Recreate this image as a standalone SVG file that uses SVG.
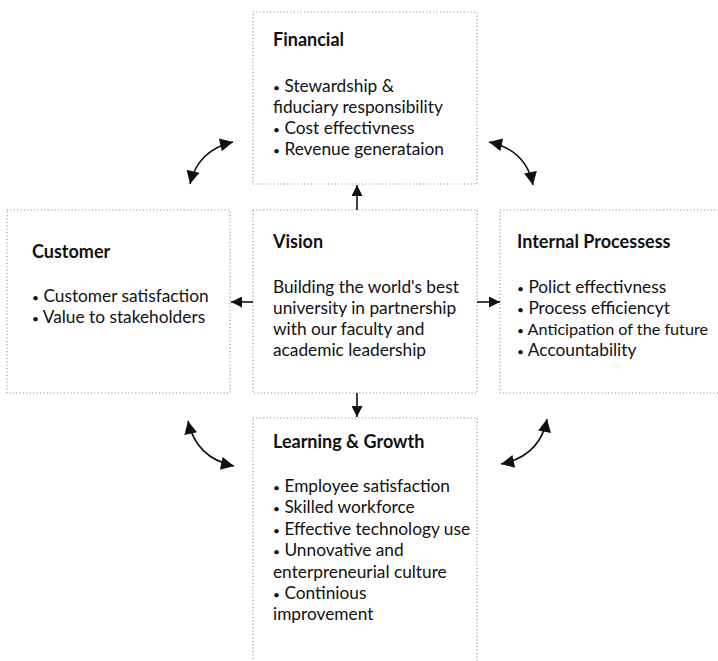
<svg xmlns="http://www.w3.org/2000/svg" width="718" height="661" viewBox="0 0 718 661">
<defs>
<style>
.box{fill:none;stroke:#8a8a8a;stroke-width:1.2;stroke-dasharray:1 2.4}
.t{font-family:Lato,"Open Sans","Liberation Sans",sans-serif;font-size:17.3px;fill:#111}
.h{font-weight:bold;font-size:18px}
.b{font-size:12px}
.c{fill:none;stroke:#111;stroke-width:1.6}
</style>
<marker id="ah" viewBox="0 0 10 10" refX="10" refY="5" markerWidth="11" markerHeight="11" markerUnits="userSpaceOnUse" orient="auto-start-reverse"><path d="M0,0 L10,5 L0,10 z" fill="#111"/></marker>
<marker id="ac" viewBox="0 0 10 10" refX="10" refY="5" markerWidth="14" markerHeight="13" markerUnits="userSpaceOnUse" orient="auto-start-reverse"><path d="M0,0 L10,5 L0,10 z" fill="#111"/></marker>
</defs>
<rect width="718" height="661" fill="#fff"/>
<g id="financial">
<rect class="box" x="253" y="12" width="224" height="172"/>
<text class="t h" x="273" y="46">Financial</text>
<text class="t" x="273" y="92"><tspan class="b">•</tspan> Stewardship &amp;</text>
<text class="t" x="273" y="113">fiduciary responsibility</text>
<text class="t" x="273" y="134"><tspan class="b">•</tspan> Cost effectivness</text>
<text class="t" x="273" y="155"><tspan class="b">•</tspan> Revenue generataion</text>
</g>
<g id="customer">
<rect class="box" x="7" y="210" width="223" height="183"/>
<text class="t h" x="32" y="258">Customer</text>
<text class="t" x="32" y="302"><tspan class="b">•</tspan> Customer satisfaction</text>
<text class="t" x="32" y="323"><tspan class="b">•</tspan> Value to stakeholders</text>
</g>
<g id="vision">
<rect class="box" x="253" y="210" width="224" height="183"/>
<text class="t h" x="273" y="248">Vision</text>
<text class="t" x="273" y="293">Building the world's best</text>
<text class="t" x="273" y="314">university in partnership</text>
<text class="t" x="273" y="335">with our faculty and</text>
<text class="t" x="273" y="356">academic leadership</text>
</g>
<g id="internal">
<rect class="box" x="500" y="210" width="230" height="183"/>
<text class="t h" x="517" y="248">Internal Processess</text>
<text class="t" x="517" y="293"><tspan class="b">•</tspan> Polict effectivness</text>
<text class="t" x="517" y="314"><tspan class="b">•</tspan> Process efficiencyt</text>
<text class="t" x="517" y="335" style="font-size:16.2px"><tspan class="b">•</tspan> Anticipation of the future</text>
<text class="t" x="517" y="356"><tspan class="b">•</tspan> Accountability</text>
</g>
<g id="learning">
<rect class="box" x="253" y="418" width="224" height="250"/>
<text class="t h" x="273" y="448">Learning &amp; Growth</text>
<text class="t" x="273" y="492"><tspan class="b">•</tspan> Employee satisfaction</text>
<text class="t" x="273" y="513"><tspan class="b">•</tspan> Skilled workforce</text>
<text class="t" x="273" y="535"><tspan class="b">•</tspan> Effective technology use</text>
<text class="t" x="273" y="556"><tspan class="b">•</tspan> Unnovative and</text>
<text class="t" x="273" y="578">enterpreneurial culture</text>
<text class="t" x="273" y="599"><tspan class="b">•</tspan> Continious</text>
<text class="t" x="273" y="620">improvement</text>
</g>
<g id="connectors">
<line class="c" x1="357" y1="210" x2="357" y2="185" marker-end="url(#ah)"/>
<line class="c" x1="357" y1="393" x2="357" y2="417" marker-end="url(#ah)"/>
<line class="c" x1="253" y1="302" x2="231" y2="302" marker-end="url(#ah)"/>
<line class="c" x1="477" y1="302" x2="500" y2="302" marker-end="url(#ah)"/>
<path class="c" d="M190,184 Q198,150 233,142" marker-start="url(#ac)" marker-end="url(#ac)"/>
<path class="c" d="M489,142 Q526,150 533,185" marker-start="url(#ac)" marker-end="url(#ac)"/>
<path class="c" d="M188,421 Q196,458 234,466" marker-start="url(#ac)" marker-end="url(#ac)"/>
<path class="c" d="M547,419 Q540,456 501,464" marker-start="url(#ac)" marker-end="url(#ac)"/>
</g>
</svg>
